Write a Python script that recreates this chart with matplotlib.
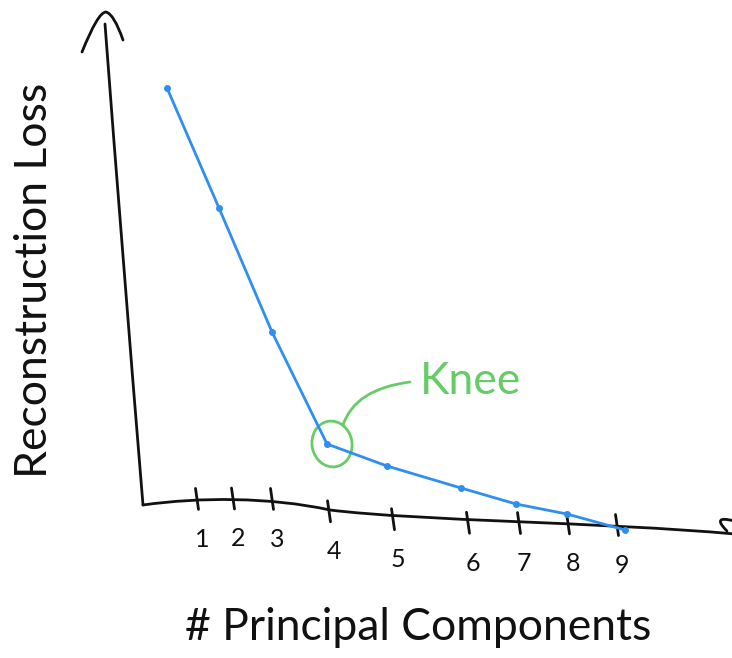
import numpy as np
import matplotlib
matplotlib.use("Agg")
import matplotlib.pyplot as plt
from matplotlib.patches import Ellipse, PathPatch
from matplotlib.path import Path

# canvas units are pixels, y grows downwards
W, H = 732, 658

# blue curve: one dot per component count
point_x = [167, 219, 272, 327, 387, 461, 516, 567, 625]
point_y = [88, 208, 332, 444, 466, 488, 504, 514, 530]

# x-axis ticks and their hand-written labels
tick_x = [197, 233, 272, 329, 393, 468, 519, 568, 617]
tick_labels = ["1", "2", "3", "4", "5", "6", "7", "8", "9"]

INK = "#111111"
BLUE = "#2e8ff0"
GREEN = "#66cc66"
FONT = ["Lato", "DejaVu Sans"]


def stroke(ax, verts, codes, color=INK, lw=2):
    ax.add_patch(PathPatch(Path(verts, codes), fill=False, edgecolor=color,
                           lw=lw, capstyle="round", joinstyle="round"))


fig = plt.figure(figsize=(W / 100, H / 100), dpi=100)
ax = fig.add_axes([0, 0, 1, 1])
ax.set_xlim(0, W)
ax.set_ylim(H, 0)
ax.axis("off")

M, C3, C4 = Path.MOVETO, Path.CURVE3, Path.CURVE4

# y-axis and its arrow head
stroke(ax, [(105, 24), (122, 250), (143, 505)], [M, C3, C3])
stroke(ax, [(82, 52), (98, 12), (106, 12), (114, 14), (123, 40)],
       [M, C3, C3, C3, C3])

# x-axis: two smooth segments, sagging slightly to the right
xaxis = Path([(143, 505), (200, 497), (270, 497), (330, 510),
              (420, 521), (600, 522), (735, 534)],
             [M, C4, C4, C4, C4, C4, C4])
ax.add_patch(PathPatch(xaxis, fill=False, edgecolor=INK, lw=2,
                       capstyle="round"))
# arrow head, mostly cut off by the right edge
stroke(ax, [(727, 531), (716, 520), (719, 517), (734, 521)],
       [M, C4, C4, C4])

# ticks follow the wobbly x-axis
axis_pts = xaxis.interpolated(40).vertices
axis_pts = axis_pts[np.argsort(axis_pts[:, 0])]
for tx, lab in zip(tick_x, tick_labels):
    ay = np.interp(tx, axis_pts[:, 0], axis_pts[:, 1])
    ax.plot([tx - 1.5, tx + 1.5], [ay - 9, ay + 12], color=INK, lw=2,
            solid_capstyle="round")
    ax.text(tx + 5, ay + 42, lab, ha="center", va="center", fontsize=18,
            family=FONT, color=INK)

# reconstruction loss curve
ax.plot(point_x, point_y, color=BLUE, lw=2, marker="o", ms=4,
        solid_capstyle="round", solid_joinstyle="round")

# knee annotation
kx, ky = point_x[3], point_y[3]
ax.add_patch(Ellipse((kx + 5, ky), 40, 46, angle=-10, fill=False,
                     edgecolor=GREEN, lw=2))
stroke(ax, [(kx + 16, ky - 19), (kx + 28, ky - 55), (kx + 83, ky - 62)],
       [M, C3, C3], color=GREEN)
ax.text(471, 382, "Knee", ha="center", va="center", fontsize=32,
        family=FONT, color=GREEN)

# axis titles
ax.text(35, 280, "Reconstruction Loss", rotation=90, ha="center",
        va="center", fontsize=32, family=FONT, color=INK)
ax.text(418, 628, "# Principal Components", ha="center", va="center",
        fontsize=32, family=FONT, color=INK)

fig.savefig("out.png", dpi=100)
